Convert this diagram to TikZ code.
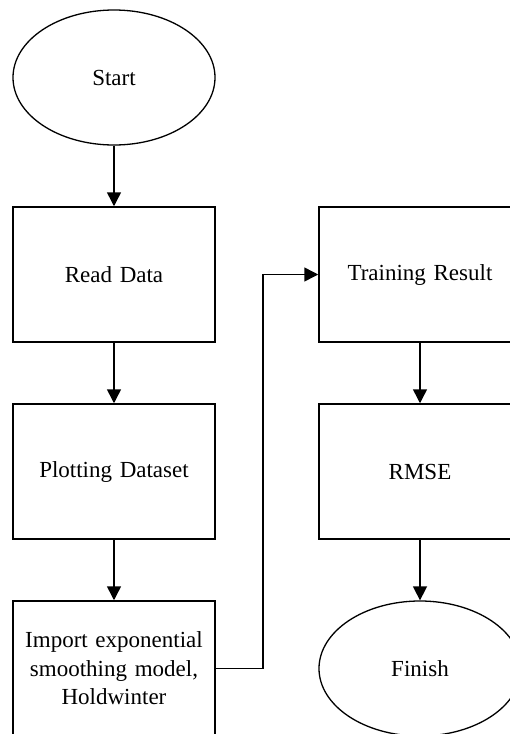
\documentclass[tikz,border=0pt]{standalone}
\usepackage{fontspec}
\setmainfont{Liberation Serif}
\usetikzlibrary{shapes.geometric,arrows.meta}
\begin{document}
\begin{tikzpicture}[x=1pt,y=-1pt,
  every node/.style={font=\fontsize{23}{28.5}\selectfont},
  procbox/.style={draw,line width=1.5pt,rectangle,minimum width=202pt,minimum height=135pt,inner sep=4pt,align=center,text width=194pt},
  termbox/.style={draw,line width=1.3pt,ellipse,minimum width=202pt,minimum height=135pt,inner sep=0pt},
  flow/.style={line width=1.5pt,-{Triangle[width=14pt,length=14pt]}}]
\useasboundingbox (0,0) rectangle (510,734);
\fill[white] (0,0) rectangle (510,734);
\node[termbox] (start) at (114,77.5) {Start};
\node[procbox] (read) at (114,274.5) {Read Data};
\node[procbox] (plot) at (114,471.5) {Plotting Dataset};
\node[procbox] (imp) at (114,668.5) {Import exponential\\smoothing model,\\Holdwinter};
\node[procbox] (train) at (420,274.5) {Training Result};
\node[procbox] (rmse) at (420,471.5) {RMSE};
\node[termbox] (finish) at (420,668.5) {Finish};
\coordinate (bend) at (263,668.5);
\draw[flow] (start) -- (read);
\draw[flow] (read) -- (plot);
\draw[flow] (plot) -- (imp);
\draw[flow] (imp.east) -- (bend) |- (train.west);
\draw[flow] (train) -- (rmse);
\draw[flow] (rmse) -- (finish);
\end{tikzpicture}
\end{document}
